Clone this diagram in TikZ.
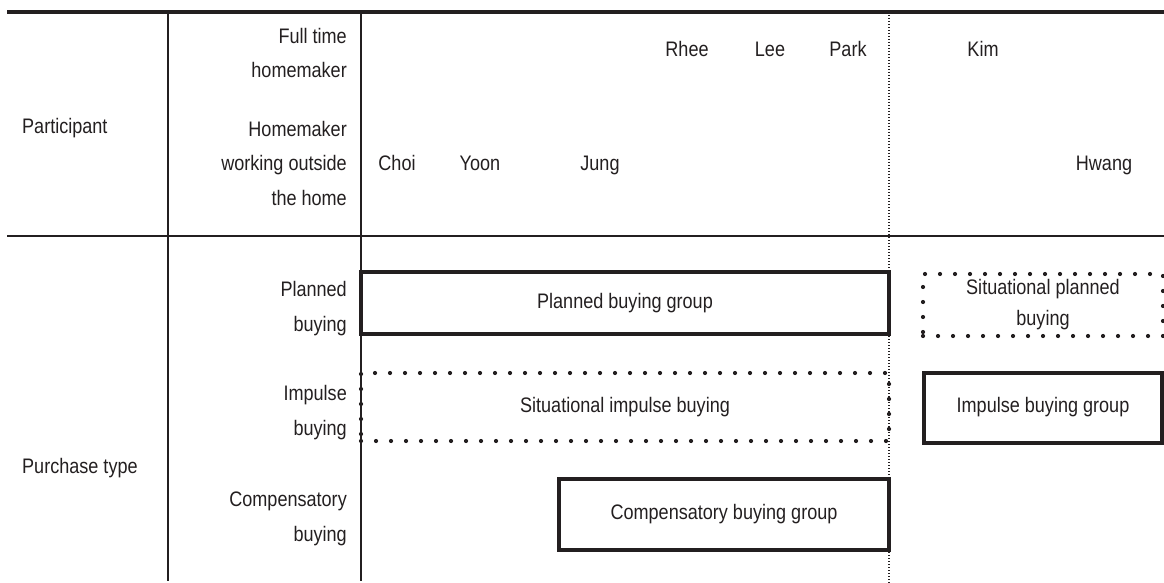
\documentclass[tikz,border=0pt]{standalone}
\usepackage{fontspec}
\setmainfont{Liberation Sans}[FakeStretch=0.86]
\definecolor{ink}{HTML}{231F20}
\begin{document}
\begin{tikzpicture}[x=1pt,y=-1pt,
  every node/.style={font=\fontsize{21}{34.5}\selectfont, text=ink, inner sep=0pt},
  thin rule/.style={draw=ink, line width=1.3pt},
  thick rule/.style={draw=ink, line width=4pt},
  sep line/.style={draw=ink, line width=1.2pt, dash pattern=on 1.2pt off 1.8pt},
  solidbox/.style={draw=ink, line width=4pt, rectangle},
  dotbox/.style={draw=ink, line width=4.2pt, rectangle, line cap=round, dash pattern=on 0pt off 15pt},
  rlabel/.style={align=right, anchor=base east},
  pname/.style={anchor=base}]
\useasboundingbox (0,0) rectangle (1164,583);
% rules
\coordinate (tl) at (7,12); \coordinate (tr) at (1164,12);
\coordinate (ml) at (7,236); \coordinate (mr) at (1164,236);
\coordinate (v1t) at (168,12); \coordinate (v1b) at (168,581);
\coordinate (v2t) at (361,12); \coordinate (v2b) at (361,581);
\coordinate (v3t) at (889,12); \coordinate (v3b) at (889,583);
\draw[thin rule] (ml) -- (mr);
\draw[thin rule] (v1t) -- (v1b);
\draw[thin rule] (v2t) -- (v2b);
\draw[sep line] (v3t) -- (v3b);
\draw[thick rule] (tl) -- (tr);
% row labels
\node[anchor=base west] (part) at (22,134) {Participant};
\node[anchor=base west] (ptype) at (22,473) {Purchase type};
\node[rlabel] (fth) at (347,78) {Full time\\homemaker};
\node[rlabel] (hwo) at (347,205) {Homemaker\\working outside\\the home};
\node[rlabel] (plb) at (347,331) {Planned\\buying};
\node[rlabel] (imb) at (347,435) {Impulse\\buying};
\node[rlabel] (cmb) at (347,541) {Compensatory\\buying};
% names
\node[pname] (rhee) at (687,57) {Rhee};
\node[pname] (lee) at (770,57) {Lee};
\node[pname] (park) at (848,57) {Park};
\node[pname] (kim) at (983,57) {Kim};
\node[pname] (choi) at (397,170) {Choi};
\node[pname] (yoon) at (480,170) {Yoon};
\node[pname] (jung) at (600,170) {Jung};
\node[pname] (hwang) at (1104,170) {Hwang};
% boxes
\node[solidbox, minimum width=528pt, minimum height=62pt] (pbg) at (625,303) {Planned buying group};
\node[dotbox, minimum width=240pt, minimum height=62pt, align=center, font=\fontsize{21}{31}\selectfont] (spb) at (1043,305) {Situational planned\\buying};
\node[dotbox, minimum width=528pt, minimum height=68pt] (sib) at (625,407) {Situational impulse buying};
\node[solidbox, minimum width=238pt, minimum height=70pt] (ibg) at (1043,407.5) {Impulse buying group};
\node[solidbox, minimum width=330pt, minimum height=71pt] (cbg) at (724,514) {Compensatory buying group};
\end{tikzpicture}
\end{document}
